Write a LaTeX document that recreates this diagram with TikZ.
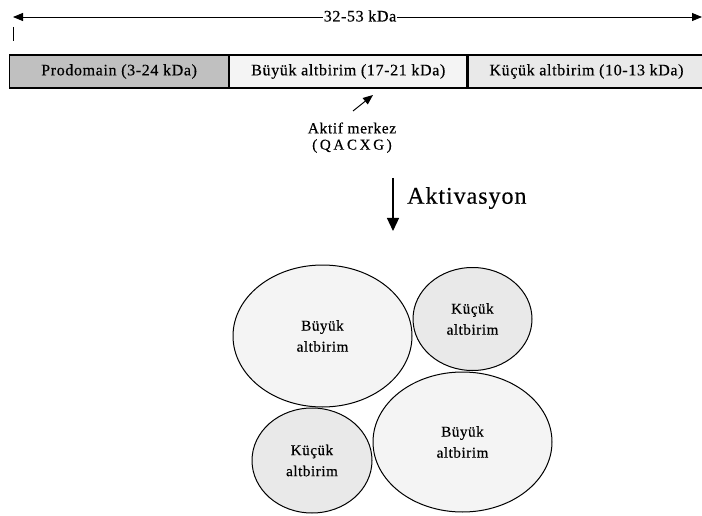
\documentclass[tikz,border=0pt]{standalone}
\usepackage{fontspec}
\setmainfont{Liberation Serif}[LetterSpace=4,FakeBold=0.4]
\usetikzlibrary{arrows.meta,shapes.geometric}
\definecolor{prog}{HTML}{C0C0C0}
\definecolor{bigc}{HTML}{F4F4F4}
\definecolor{smallc}{HTML}{E9E9E9}
\begin{document}
\begin{tikzpicture}[x=1pt,y=-1pt,
  seg/.style={draw=black, line width=1.2pt, minimum height=33pt, inner sep=0pt, anchor=west, font=\fontsize{16}{18}\selectfont},
  ell/.style={ellipse, draw=black, line width=1pt, inner sep=0pt, align=center, font=\fontsize{15}{21}\selectfont},
  bigell/.style={ell, fill=bigc, minimum width=179pt, minimum height=142pt},
  smallell/.style={ell, fill=smallc, minimum width=119pt, minimum height=103pt},
  tip/.style={-{Triangle[length=10pt,width=8pt]}},
  lbl/.style={inner sep=1pt, font=\fontsize{15.5}{17}\selectfont}
]
\useasboundingbox (0,0) rectangle (702,516);

% total length arrow
\coordinate (tl) at (13,17);
\coordinate (tr) at (702,17);
\node[lbl, font=\fontsize{16}{18}\selectfont] (tot) at (360,16) {32-53 kDa};
\draw[line width=0.9pt, tip] (tot.west |- tl) -- (tl);
\draw[line width=0.9pt, tip] (tot.east |- tl) -- (tr);
\coordinate (t1) at (13,27);
\coordinate (t2) at (13,41);
\draw[line width=1pt] (t1) -- (t2);

% segments
\node[seg, fill=prog, minimum width=219pt] (pro) at (9,71.5) {Prodomain (3-24 kDa)};
\node[seg, fill=bigc, minimum width=237pt] (buy) at (pro.east) {Büyük altbirim (17-21 kDa)};
\node[seg, fill=smallc, minimum width=237pt] (kuc) at (buy.east) {Küçük altbirim (10-13 kDa)};

% active site
\node[lbl] (am) at (352,128) {Aktif merkez};
\node[lbl, font=\fontsize{15}{17}\selectfont\addfontfeatures{LetterSpace=18}] (qa) at (352,146) {(QACXG)};
\coordinate (sa1) at (353,111);
\coordinate (sa2) at (373,95);
\draw[line width=1pt, tip] (sa1) -- (sa2);

% activation
\coordinate (a1) at (393,178);
\coordinate (a2) at (393,231);
\draw[line width=1.2pt, -{Triangle[length=13pt,width=12pt]}] (a1) -- (a2);
\node[anchor=west, inner sep=0pt, font=\fontsize{24}{26}\selectfont] (akt) at (407,198) {Aktivasyon};

% subunits
\node[bigell] (b1) at (322.5,336) {Büyük\\altbirim};
\node[smallell] (s1) at (472.5,319) {Küçük\\altbirim};
\node[bigell, minimum height=140pt] (b2) at (462.5,442) {Büyük\\altbirim};
\node[smallell, minimum width=120pt, minimum height=105pt] (s2) at (312,460.5) {Küçük\\altbirim};
\end{tikzpicture}
\end{document}
